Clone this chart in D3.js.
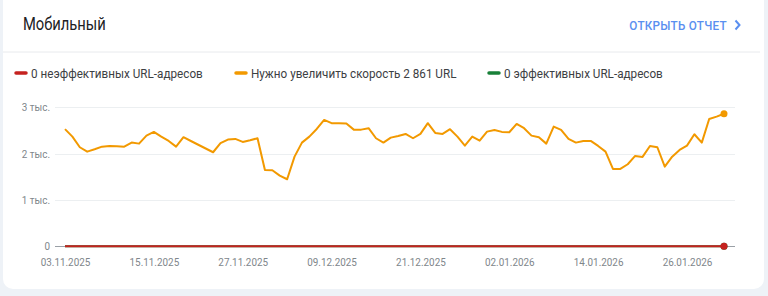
<!DOCTYPE html>
<html>
<head>
<meta charset="utf-8">
<script src="https://cdn.jsdelivr.net/npm/d3@7"></script>
<style>
  html, body { margin: 0; padding: 0; background: #eef2f7; }
  body { width: 768px; height: 296px; overflow: hidden; font-family: Roboto, "Noto Sans", sans-serif; }
</style>
</head>
<body>
<svg id="chart" width="768" height="296"></svg>
<script>
// данные
const startDate = "03.11.2025";
const xTickLabels = ["03.11.2025", "15.11.2025", "27.11.2025", "09.12.2025", "21.12.2025", "02.01.2026", "14.01.2026", "26.01.2026"];
const yTicks = [0, 1000, 2000, 3000];
const needsWork = [
  2530, 2367, 2138, 2043, 2095, 2151, 2166, 2160, 2151, 2238,
  2216, 2389, 2469, 2367, 2274, 2151, 2354, 2273, 2192, 2111,
  2030, 2225, 2303, 2317, 2253, 2289, 2332, 1648, 1641, 1525,
  1447, 1935, 2238, 2367, 2533, 2728, 2657, 2657, 2650, 2518,
  2518, 2549, 2332, 2238, 2346, 2382, 2425, 2332, 2425, 2657,
  2447, 2425, 2527, 2367, 2173, 2367, 2281, 2475, 2512, 2469,
  2462, 2641, 2549, 2389, 2354, 2216, 2583, 2512, 2317, 2238,
  2274, 2274, 2166, 2043, 1670, 1670, 1771, 1950, 1929, 2166,
  2138, 1719, 1935, 2080, 2173, 2419, 2238, 2749, 2799, 2861
];
const poor = needsWork.map(() => 0);
const good = needsWork.map(() => 0);
const legendItems = [
  { label: "0 неэффективных URL-адресов", color: "#c5221f" },
  { label: "Нужно увеличить скорость 2 861 URL", color: "#f29900" },
  { label: "0 эффективных URL-адресов", color: "#188038" }
];

const parse = d3.utcParse("%d.%m.%Y");
const fmt = d3.utcFormat("%d.%m.%Y");
const d0 = parse(startDate);
const dates = needsWork.map((_, i) => d3.utcDay.offset(d0, i));

// шрифт на скриншоте чуть сжат по ширине
const squeeze = "scale(0.9,1)";

const svg = d3.select("#chart");

// карточка
svg.append("rect")
  .attr("x", 3).attr("y", -12)
  .attr("width", 761).attr("height", 301)
  .attr("rx", 10)
  .attr("fill", "#fff");

svg.append("text")
  .attr("transform", "translate(23,30) scale(0.82,1)")
  .attr("font-size", 18)
  .attr("fill", "#202124")
  .text("Мобильный");

svg.append("text")
  .attr("transform", "translate(727,30) " + squeeze)
  .attr("text-anchor", "end")
  .attr("font-size", 13)
  .attr("font-weight", 500)
  .attr("letter-spacing", 0.3)
  .attr("fill", "#5a8ff0")
  .text("ОТКРЫТЬ ОТЧЕТ");

svg.append("path")
  .attr("d", "M735.5,20.5 L739.5,25 L735.5,29.5")
  .attr("fill", "none")
  .attr("stroke", "#5a8ff0")
  .attr("stroke-width", 2);

svg.append("line")
  .attr("x1", 3).attr("x2", 760)
  .attr("y1", 52).attr("y2", 52)
  .attr("stroke", "#e8eaed");

// легенда
const legendX = [16, 236, 489];
const lg = svg.append("g").selectAll("g")
  .data(legendItems).enter().append("g")
  .attr("transform", (d, i) => "translate(" + legendX[i] + "," + 73 + ")");
lg.append("line")
  .attr("x1", 0).attr("x2", 10)
  .attr("stroke", d => d.color)
  .attr("stroke-width", 3.5)
  .attr("stroke-linecap", "round");
lg.append("text")
  .attr("transform", "translate(15,4.5) " + squeeze)
  .attr("font-size", 13)
  .attr("fill", "#3c4043")
  .text(d => d.label);

// шкалы
const x = d3.scaleUtc()
  .domain([dates[0], dates[dates.length - 1]])
  .range([65, 724]);
const y = d3.scaleLinear()
  .domain([0, 3000])
  .range([246.3, 107.3]);

// сетка
svg.append("g").selectAll("line")
  .data(yTicks).enter().append("line")
  .attr("x1", 55).attr("x2", 735)
  .attr("y1", d => Math.round(y(d)) + 0.5)
  .attr("y2", d => Math.round(y(d)) + 0.5)
  .attr("stroke", d => d === 0 ? "#9aa0a6" : "#eceff1");

const yAxis = d3.axisLeft(y)
  .tickValues(yTicks)
  .tickSize(0)
  .tickPadding(0)
  .tickFormat(d => d === 0 ? "0" : (d / 1000) + " тыс.");
svg.append("g")
  .attr("transform", "translate(50,0)")
  .call(yAxis)
  .call(g => g.select(".domain").remove())
  .selectAll("text")
  .attr("transform", squeeze)
  .attr("font-family", "Roboto, sans-serif")
  .attr("font-size", 11)
  .attr("fill", "#80868b");

const xAxis = d3.axisBottom(x)
  .tickValues(xTickLabels.map(parse))
  .tickSize(0)
  .tickPadding(0)
  .tickFormat(fmt);
svg.append("g")
  .attr("transform", "translate(0,258)")
  .call(xAxis)
  .call(g => g.select(".domain").remove())
  .selectAll("text")
  .attr("transform", squeeze)
  .attr("font-family", "Roboto, sans-serif")
  .attr("font-size", 11)
  .attr("fill", "#80868b");

// линии
const line = d3.line()
  .x((d, i) => x(dates[i]))
  .y(d => y(d));

const series = [
  { values: good, color: legendItems[2].color },
  { values: needsWork, color: legendItems[1].color },
  { values: poor, color: legendItems[0].color }
];
series.forEach(s => {
  svg.append("path")
    .datum(s.values)
    .attr("d", line)
    .attr("fill", "none")
    .attr("stroke", s.color)
    .attr("stroke-width", 2)
    .attr("stroke-linejoin", "round");
  svg.append("circle")
    .attr("cx", x(dates[dates.length - 1]))
    .attr("cy", y(s.values[s.values.length - 1]))
    .attr("r", 3.5)
    .attr("fill", s.color);
});
</script>
</body>
</html>
